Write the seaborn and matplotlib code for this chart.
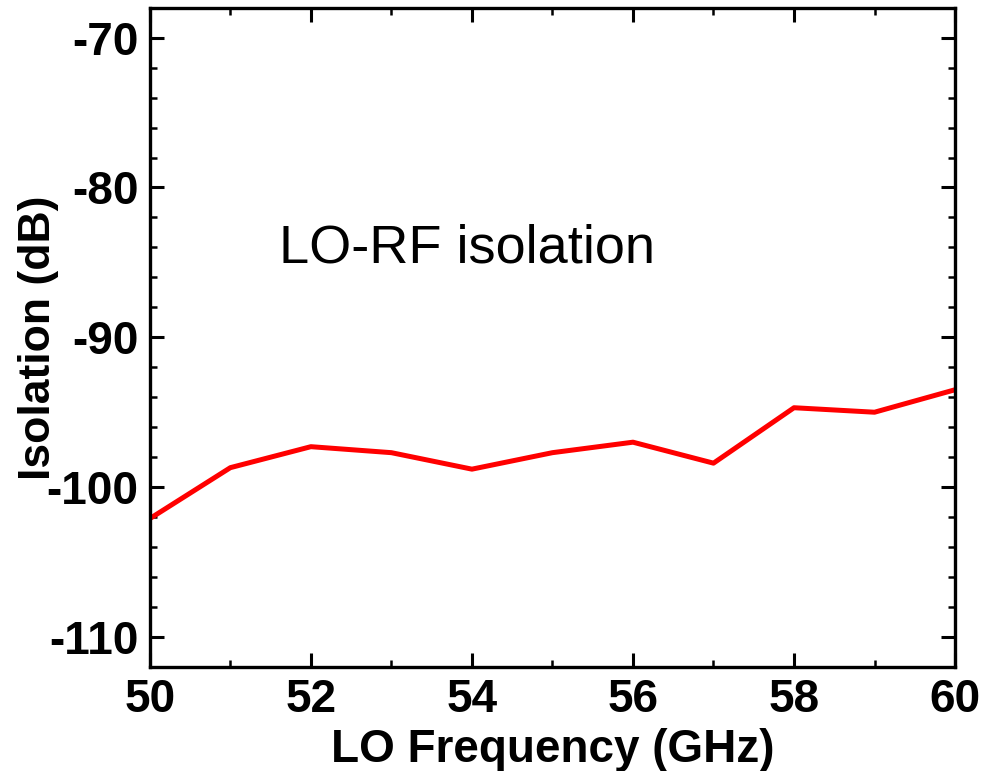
import seaborn as sns
import matplotlib.pyplot as plt
import pandas as pd
from matplotlib.ticker import MultipleLocator

freq = [50, 51, 52, 53, 54, 55, 56, 57, 58, 59, 60]
isolation = [-102.1, -98.7, -97.3, -97.7, -98.8, -97.7, -97.0, -98.4, -94.7, -95.0, -93.5]

df = pd.DataFrame({'LO Frequency (GHz)': freq, 'Isolation (dB)': isolation})

sns.set_style("ticks")
plt.rcParams['font.family'] = ['Liberation Sans', 'DejaVu Sans']
plt.rcParams['axes.unicode_minus'] = False
plt.rcParams['text.color'] = 'black'
plt.rcParams['axes.labelcolor'] = 'black'

fig = plt.figure(figsize=(9.99, 7.71), dpi=100)
ax = fig.add_axes([0.150, 0.135, 0.806, 0.855])
sns.lineplot(data=df, x='LO Frequency (GHz)', y='Isolation (dB)', color='#ff0000', linewidth=3.6, ax=ax)

ax.set_xlim(50, 60)
ax.set_ylim(-112, -68)
ax.xaxis.set_major_locator(MultipleLocator(2))
ax.xaxis.set_minor_locator(MultipleLocator(1))
ax.yaxis.set_major_locator(MultipleLocator(10))
ax.yaxis.set_minor_locator(MultipleLocator(2))

ax.tick_params(which='both', direction='in', top=True, right=True, colors='black', labelcolor='black')
ax.tick_params(which='major', length=10, width=2.2, labelsize=33, pad=8)
ax.tick_params(which='minor', length=5, width=1.8)
for lab in ax.get_xticklabels() + ax.get_yticklabels():
    lab.set_fontweight('bold')
for sp in ax.spines.values():
    sp.set_linewidth(2.4)
    sp.set_color('black')

ax.set_xlabel('LO Frequency (GHz)', fontsize=33, fontweight='bold', labelpad=4, color='black')
ax.set_ylabel('Isolation (dB)', fontsize=32, fontweight='bold', labelpad=-9, color='black')

ax.text(51.6, -85, 'LO-RF isolation', fontsize=39, color='black')

fig.savefig('out.png', dpi=100)
